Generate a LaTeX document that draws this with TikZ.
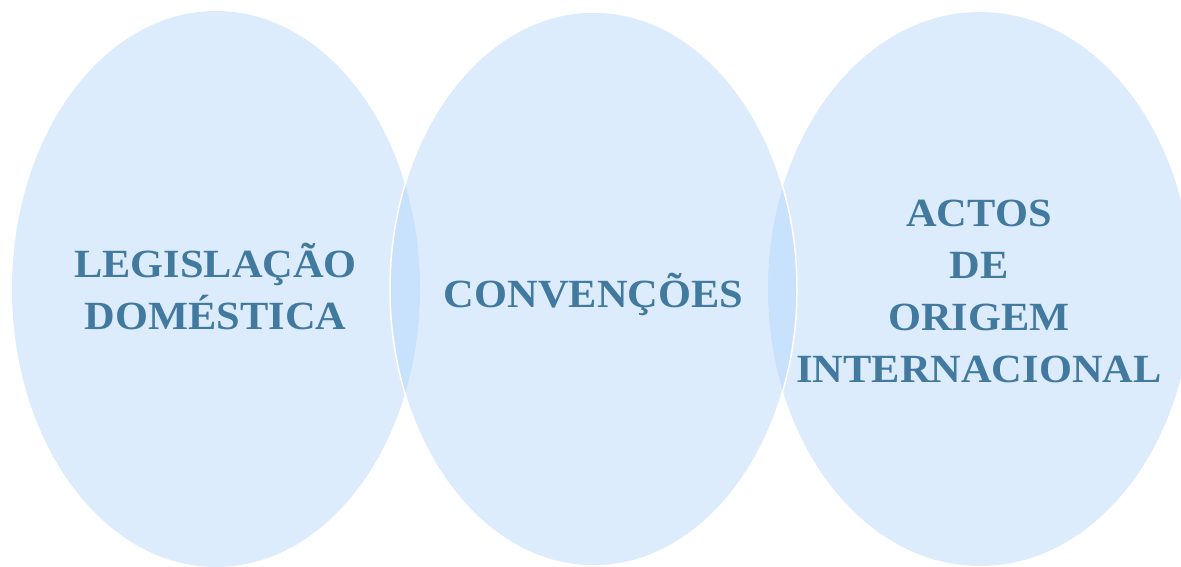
\documentclass[tikz,border=0pt]{standalone}
\usepackage{fontspec}
\setmainfont{Liberation Serif}
\newfontfamily\lblfont[FakeStretch=1.06]{Liberation Serif}
\definecolor{ellfill}{HTML}{DDECFC}
\definecolor{lensfill}{HTML}{C8E1FC}
\definecolor{txt}{HTML}{41799F}
\newcommand\topstrt{\rule{0pt}{40pt}}
\newcommand\botstrt{\rule[-15pt]{0pt}{15pt}}
\tikzset{
  ell/.style={fill=ellfill, draw=none},
  rim/.style={draw=white, line width=1.5pt},
  lbl/.style={text=txt, font=\lblfont\fontsize{40}{52}\selectfont\bfseries, align=center, inner sep=0pt}
}
\begin{document}
\begin{tikzpicture}[x=1pt,y=-1pt]
\useasboundingbox (0,0) rectangle (1181,567);
% ellipses
\fill[ell] (216,289) ellipse [x radius=204, y radius=278];
\fill[ell] (980,289) ellipse [x radius=212, y radius=277];
\fill[ell] (593.5,289) ellipse [x radius=203.5, y radius=277];
% overlap lenses
\begin{scope}
  \clip (216,289) ellipse [x radius=204, y radius=278];
  \fill[lensfill] (593.5,289) ellipse [x radius=203.5, y radius=277];
\end{scope}
\begin{scope}
  \clip (980,289) ellipse [x radius=212, y radius=277];
  \fill[lensfill] (593.5,289) ellipse [x radius=203.5, y radius=277];
\end{scope}
\draw[rim] (593.5,289) ellipse [x radius=203.5, y radius=277];
% labels
\node[lbl] (leg) at (215.5,291) {\topstrt LEGISLAÇÃO\\DOMÉSTICA\botstrt};
\node[lbl] (con) at (593.5,294.5) {\topstrt CONVENÇÕES\botstrt};
\node[lbl] (act) at (979,291.5) {\topstrt ACTOS\\DE\\ORIGEM\\INTERNACIONAL\botstrt};
\end{tikzpicture}
\end{document}
